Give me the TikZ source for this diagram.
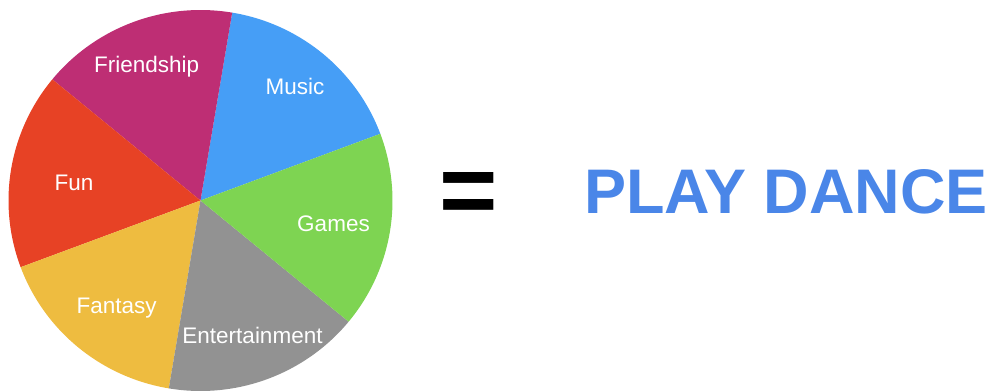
\documentclass[tikz,border=0pt]{standalone}
\usepackage{fontspec}
\setmainfont{Liberation Sans}
\usepackage{tikz}
\usetikzlibrary{positioning}

\definecolor{musicblue}{HTML}{469EF6}
\definecolor{friendmag}{HTML}{BE2E74}
\definecolor{funred}{HTML}{E74225}
\definecolor{fantasyyel}{HTML}{EEBC40}
\definecolor{entgray}{HTML}{929292}
\definecolor{gamesgreen}{HTML}{7ED452}
\definecolor{playblue}{HTML}{4A86E8}

\tikzset{
  slicelabel/.style={text=white, anchor=base, inner sep=0pt, font=\fontsize{22.5}{26}\selectfont},
  slice/.style={draw=none}
}

\begin{document}
\begin{tikzpicture}[x=1pt,y=1pt]
            \useasboundingbox (0,0) rectangle (991,-391);
            \coordinate (c) at (200.5,-200.5);
            % the six slices
            \foreach \a/\b/\col in {20.5/80.5/musicblue, 80.5/140.5/friendmag, 140.5/200.5/funred,
                                    200.5/260.5/fantasyyel, 260.5/320.5/entgray, 320.5/380.5/gamesgreen}
                \fill[slice,fill=\col] (c) -- ++(\a:192 and 190.5) arc[start angle=\a, end angle=\b, x radius=192, y radius=190.5] -- cycle;
            \node[slicelabel] (friendship) at (146.7,-72) {Friendship};
            \node[slicelabel] (music) at (295,-94) {Music};
            \node[slicelabel] (fun) at (74,-190) {Fun};
            \node[slicelabel] (games) at (333.5,-231) {Games};
            \node[slicelabel] (fantasy) at (116.7,-313) {Fantasy};
            \node[slicelabel] (entertainment) at (252.5,-343) {Entertainment};
            % the result
            \node[anchor=base, inner sep=0pt, font=\fontsize{100}{110}\selectfont\bfseries] (equals) at (469,-224) {=};
            \node[anchor=base, inner sep=0pt, text=playblue, font=\fontsize{63}{70}\selectfont\bfseries] (playdance) at (786,-213) {PLAY DANCE};
        \end{tikzpicture}
\end{document}
